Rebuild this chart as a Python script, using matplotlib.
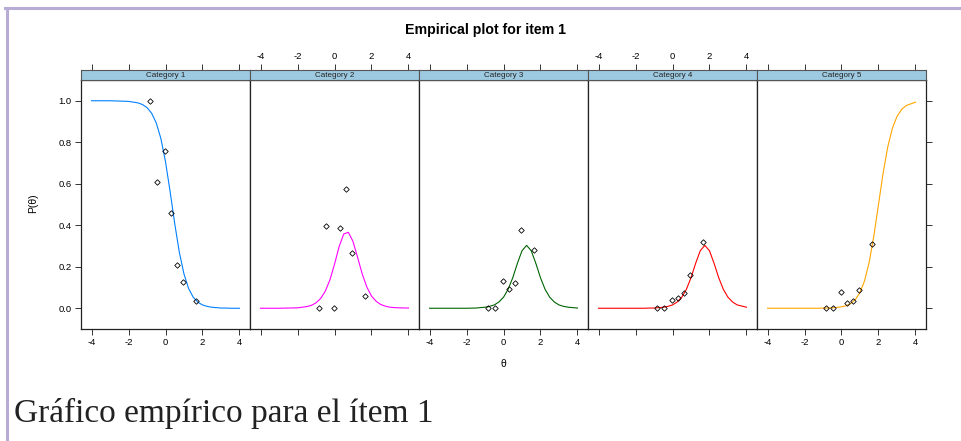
import matplotlib.pyplot as plt
from matplotlib.lines import Line2D

plt.rcParams['font.family'] = ['Liberation Sans', 'DejaVu Sans']
plt.rcParams['axes.unicode_minus'] = False

# curvas del modelo
theta = [-4, -3, -2, -1.5, -1.25, -1, -0.75, -0.5, -0.25, 0, 0.25, 0.5, 0.75,
         1, 1.25, 1.5, 1.75, 2, 2.25, 2.5, 2.75, 3, 3.25, 3.5, 4]
cat1 = [1.000, 1.000, 0.997, 0.990, 0.982, 0.967, 0.940, 0.893, 0.818, 0.706, 0.562, 0.407, 0.269,
        0.165, 0.095, 0.053, 0.029, 0.016, 0.009, 0.005, 0.003, 0.001, 0.001, 0.000, 0.000]
cat2 = [0.000, 0.000, 0.002, 0.008, 0.014, 0.026, 0.047, 0.082, 0.136, 0.212, 0.297, 0.358, 0.366,
        0.322, 0.245, 0.165, 0.102, 0.059, 0.034, 0.018, 0.010, 0.005, 0.003, 0.002, 0.001]
cat3 = [0.000, 0.000, 0.000, 0.001, 0.003, 0.005, 0.009, 0.016, 0.030, 0.053, 0.091, 0.147, 0.216,
        0.277, 0.303, 0.277, 0.216, 0.147, 0.091, 0.053, 0.030, 0.016, 0.009, 0.005, 0.001]
cat4 = [0.000, 0.000, 0.000, 0.000, 0.001, 0.001, 0.003, 0.005, 0.009, 0.016, 0.030, 0.053, 0.091,
        0.147, 0.216, 0.277, 0.303, 0.277, 0.216, 0.147, 0.091, 0.053, 0.030, 0.016, 0.005]
cat5 = [0.000, 0.000, 0.000, 0.000, 0.000, 0.001, 0.001, 0.002, 0.004, 0.007, 0.012, 0.023, 0.042,
        0.076, 0.133, 0.223, 0.349, 0.500, 0.651, 0.777, 0.867, 0.924, 0.958, 0.977, 0.993]

# puntos empiricos
emp_theta = [-0.85, -0.46, -0.04, 0.30, 0.62, 0.96, 1.63]
emp1 = [1.000, 0.610, 0.759, 0.457, 0.209, 0.127, 0.037]
emp2 = [0.000, 0.396, 0.000, 0.385, 0.573, 0.265, 0.061]
emp3 = [0.000, 0.000, 0.133, 0.091, 0.123, 0.376, 0.281]
emp4 = [0.000, 0.000, 0.040, 0.050, 0.072, 0.159, 0.319]
emp5 = [0.000, 0.000, 0.079, 0.026, 0.037, 0.087, 0.310]

categorias = ['Category 1', 'Category 2', 'Category 3', 'Category 4', 'Category 5']
curvas = [cat1, cat2, cat3, cat4, cat5]
empiricos = [emp1, emp2, emp3, emp4, emp5]
colores = ['#0080ff', '#ff00ff', 'darkgreen', '#ff0000', 'orange']

x_ticks = [-4, -2, 0, 2, 4]
y_ticks = [0.0, 0.2, 0.4, 0.6, 0.8, 1.0]

W, H = 962, 441
fig = plt.figure(figsize=(W / 100, H / 100), dpi=100)


def caja(x0, y0, w, h):
    """Convierte una caja en pixeles (desde arriba) a fracciones de figura."""
    return [x0 / W, 1 - (y0 + h) / H, w / W, h / H]


borde = '#222222'
tick_kw = dict(direction='out', length=4.2, width=0.7, colors='#333333',
               labelsize=6.8, labelcolor='black', pad=2.5)

for i in range(5):
    x0 = 81 + i * 169
    ax = fig.add_axes(caja(x0, 80, 169, 249))
    ax.plot(theta, curvas[i], color=colores[i], lw=0.8)
    ax.plot(emp_theta, empiricos[i], linestyle='none', marker='D', ms=2.8,
            mfc='none', mec='black', mew=0.6)
    ax.set_xlim(-4.57, 4.57)
    ax.set_ylim(-0.1, 1.1)
    for s in ax.spines.values():
        s.set_color(borde)
        s.set_linewidth(0.9)
    ax.set_xticks(x_ticks)
    ax.tick_params(axis='x', **tick_kw)
    if i % 2 == 1:
        ax.tick_params(axis='x', labelbottom=False)
    ax.set_yticks(y_ticks)
    ax.set_yticklabels([f'{v:.1f}' for v in y_ticks])
    ax.tick_params(axis='y', **tick_kw)
    if i == 0:
        ax.tick_params(axis='y', left=True, labelleft=True, right=False)
    elif i == 4:
        ax.tick_params(axis='y', left=False, labelleft=False, right=True, labelright=False)
    else:
        ax.tick_params(axis='y', left=False, labelleft=False)

    # tira con el nombre de la categoria
    st = fig.add_axes(caja(x0, 70, 169, 10))
    st.set_facecolor('#9ecae1')
    st.set_xlim(-4.57, 4.57)
    st.set_ylim(0, 1)
    st.set_yticks([])
    st.set_xticks(x_ticks)
    st.xaxis.tick_top()
    st.tick_params(axis='x', **tick_kw)
    if i % 2 == 0:
        st.tick_params(axis='x', labeltop=False)
    for s in st.spines.values():
        s.set_color('#555555')
        s.set_linewidth(0.8)
    st.text(0.5, 0.45, categorias[i], transform=st.transAxes, ha='center', va='center',
            fontsize=5.8, color='#222222')

fig.text(486 / W, 1 - 30 / H, 'Empirical plot for item 1', ha='center', va='center',
         fontsize=10.2, fontweight='bold')
fig.text(503 / W, 1 - 364 / H, 'θ', ha='center', va='center', fontsize=7.5)
fig.text(33 / W, 1 - 203 / H, 'P(θ)', ha='center', va='center', fontsize=7.5, rotation=90)

fig.text(14 / W, 1 - 422 / H, 'Gráfico empírico para el ítem 1', ha='left', va='baseline',
         fontsize=24, family=['Liberation Serif', 'DejaVu Serif'], color='#222222')

# marco lila
lila = '#b8acd6'
fig.add_artist(Line2D([5 / W, 1], [1 - 7.5 / H, 1 - 7.5 / H], transform=fig.transFigure,
                      color=lila, lw=2.2))
fig.add_artist(Line2D([6.5 / W, 6.5 / W], [0, 1 - 7.5 / H], transform=fig.transFigure,
                      color=lila, lw=2.2))

fig.savefig('out.png', dpi=100)
